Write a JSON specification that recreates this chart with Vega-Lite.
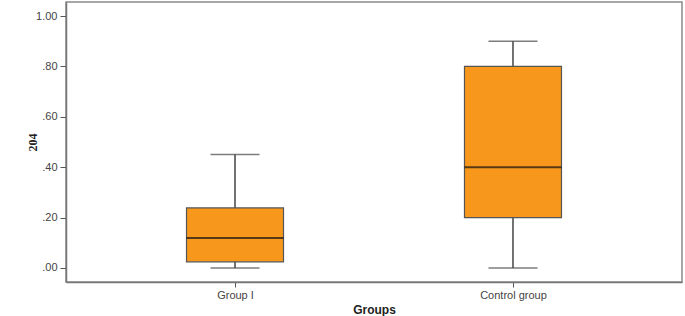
{
  "$schema": "https://vega.github.io/schema/vega-lite/v6.json",
  "autosize": {"type": "none"},
  "width": 616,
  "height": 280,
  "padding": {"left": 66, "top": 2, "right": 3, "bottom": 34},
  "background": "white",
  "config": {
    "view": {"stroke": "#8a8a8a", "strokeWidth": 1.5},
    "font": "Liberation Sans"
  },
  "data": {
    "values": [
      {"group": "Group I", "min": 0.0, "q1": 0.024, "median": 0.119, "q3": 0.238, "max": 0.45},
      {"group": "Control group", "min": 0.0, "q1": 0.20, "median": 0.40, "q3": 0.80, "max": 0.90}
    ]
  },
  "encoding": {
    "x": {
      "field": "group",
      "type": "nominal",
      "sort": ["Group I", "Control group"],
      "scale": {"type": "point", "padding": 0.608},
      "axis": {
        "title": "Groups",
        "titleFont": "Liberation Sans",
        "titleFontWeight": "bold",
        "titleFontSize": 12,
        "titleColor": "#222",
        "titlePadding": 4,
        "labelAngle": 0,
        "labelFont": "Liberation Sans",
        "labelFontSize": 11,
        "labelColor": "#444",
        "labelPadding": 2,
        "tickSize": 5,
        "tickColor": "#555",
        "domainColor": "#777",
        "domainWidth": 1.5
      }
    }
  },
  "layer": [
    {
      "mark": {"type": "rule", "color": "#444", "strokeWidth": 1.5},
      "encoding": {
        "y": {
          "field": "min",
          "type": "quantitative",
          "scale": {"domain": [-0.056, 1.056], "nice": false, "zero": false},
          "axis": {
            "title": "204",
            "titleFont": "Liberation Sans Narrow",
            "titleFontWeight": "bold",
            "titleFontSize": 12,
            "titleColor": "#222",
            "titleX": -27,
            "titleY": 140,
            "values": [0, 0.2, 0.4, 0.6, 0.8, 1.0],
            "labelExpr": "datum.value < 0.999 ? substring(format(datum.value, '.2f'), 1) : format(datum.value, '.2f')",
            "labelFont": "Liberation Sans",
            "labelFontSize": 11,
            "labelColor": "#444",
            "labelPadding": 3,
            "tickSize": 6,
            "tickColor": "#555",
            "domainColor": "#777",
            "domainWidth": 1.5,
            "grid": false
          }
        },
        "y2": {"field": "max"}
      }
    },
    {
      "mark": {"type": "bar", "size": 97, "color": "#F7981D", "stroke": "#555", "strokeWidth": 1.2},
      "encoding": {
        "y": {"field": "q1", "type": "quantitative"},
        "y2": {"field": "q3"}
      }
    },
    {
      "mark": {"type": "tick", "size": 97, "thickness": 2, "color": "#111"},
      "encoding": {
        "y": {"field": "median", "type": "quantitative"}
      }
    },
    {
      "mark": {"type": "tick", "size": 49, "thickness": 1.5, "color": "#444"},
      "encoding": {
        "y": {"field": "min", "type": "quantitative"}
      }
    },
    {
      "mark": {"type": "tick", "size": 49, "thickness": 1.5, "color": "#444"},
      "encoding": {
        "y": {"field": "max", "type": "quantitative"}
      }
    }
  ]
}
